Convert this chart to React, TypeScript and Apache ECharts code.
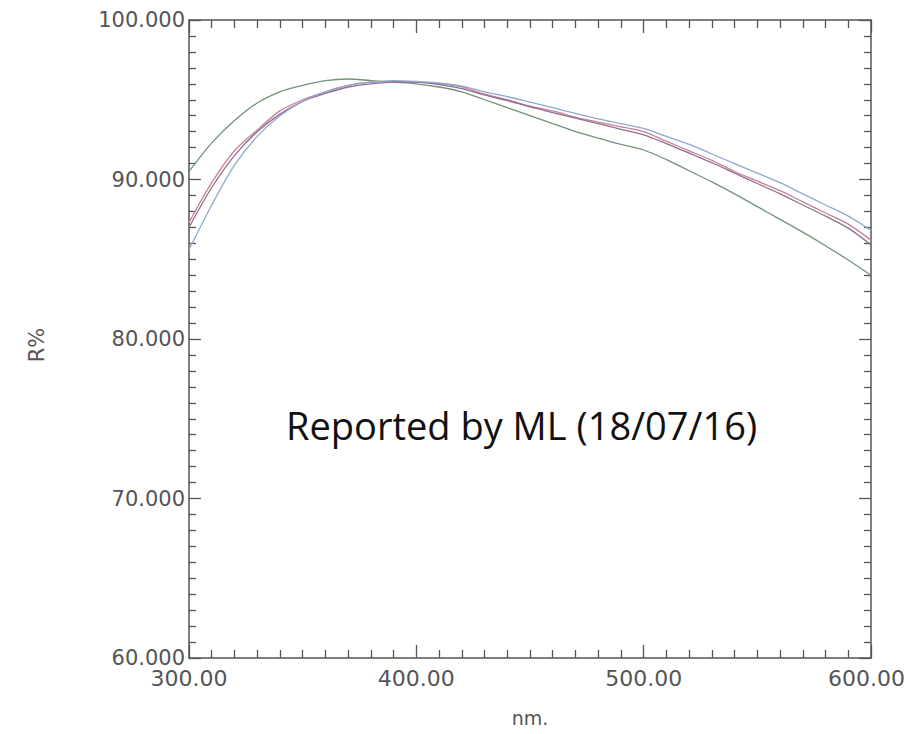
import React, { useEffect, useRef } from "react";
import * as echarts from "echarts";

const wavelengths = [300, 310, 320, 330, 340, 350, 360, 370, 380, 390, 400, 410, 420, 430, 440, 450, 460, 470, 480, 490, 500, 510, 520, 530, 540, 550, 560, 570, 580, 590, 600];

const greenSeries = [90.5, 92.3, 93.7, 94.8, 95.5, 95.9, 96.2, 96.3, 96.2, 96.1, 96.0, 95.8, 95.5, 95.0, 94.5, 94.0, 93.5, 93.0, 92.6, 92.2, 91.85, 91.25, 90.55, 89.85, 89.1, 88.3, 87.5, 86.7, 85.85, 84.95, 84.0];
const redSeries = [87.3, 89.8, 91.8, 93.1, 94.3, 95.0, 95.5, 95.9, 96.1, 96.15, 96.1, 96.0, 95.8, 95.35, 95.0, 94.6, 94.3, 93.9, 93.6, 93.3, 93.0, 92.4, 91.8, 91.2, 90.5, 89.9, 89.3, 88.6, 87.9, 87.2, 86.2];
const purpleSeries = [87.0, 89.5, 91.5, 93.0, 94.1, 94.9, 95.4, 95.8, 96.0, 96.1, 96.1, 95.95, 95.7, 95.3, 94.95, 94.55, 94.2, 93.85, 93.5, 93.15, 92.8, 92.25, 91.65, 91.05, 90.4, 89.75, 89.1, 88.4, 87.7, 86.95, 85.9];
const blueSeries = [85.6, 88.4, 90.9, 92.7, 94.0, 94.9, 95.5, 95.9, 96.1, 96.2, 96.15, 96.05, 95.85, 95.5, 95.2, 94.85, 94.5, 94.15, 93.8, 93.5, 93.2, 92.7, 92.2, 91.6, 91.0, 90.4, 89.8, 89.1, 88.4, 87.7, 86.8];

const seriesNames = ["Sample A", "Sample B", "Sample C", "Sample D"];
const seriesColors = ["#6f9478", "#c98095", "#8f6e93", "#8fa9cc"];
const seriesValues = [greenSeries, redSeries, purpleSeries, blueSeries];

const xTickLabels = ["300.00", "400.00", "500.00", "600.00"];
const yTickLabels = ["60.000", "70.000", "80.000", "90.000", "100.000"];

export default function App() {
  const ref = useRef<HTMLDivElement>(null);
  useEffect(() => {
    if (!ref.current) return;
    const chart = echarts.init(ref.current, null, { renderer: "svg" });
    const axisLine = { show: true, lineStyle: { color: "#555", width: 1.5 } };
    const labelFont = "DejaVu Sans";
    const xMap: Record<number, string> = { 300: xTickLabels[0], 400: xTickLabels[1], 500: xTickLabels[2], 600: xTickLabels[3] };
    const yMap: Record<number, string> = { 60: yTickLabels[0], 70: yTickLabels[1], 80: yTickLabels[2], 90: yTickLabels[3], 100: yTickLabels[4] };
    chart.setOption({
      animation: false,
      backgroundColor: "#ffffff",
      grid: { left: 189, right: 35, top: 20, bottom: 76, containLabel: false, outerBoundsMode: "none" },
      xAxis: [
        {
          type: "value", min: 300, max: 600, interval: 100, position: "bottom",
          axisLine, splitLine: { show: false },
          axisTick: { show: true, inside: true, length: 13, lineStyle: { color: "#555", width: 1.3 } },
          minorTick: { show: true, splitNumber: 10, length: 8, lineStyle: { color: "#555", width: 1.3 } },
          axisLabel: {
            show: true, margin: 9, fontFamily: labelFont, fontSize: 22, color: "#555",
            formatter: (v: number) => (v === 600 ? "{last|" + xMap[v] + "}" : xMap[v] ?? ""),
            rich: { last: { fontFamily: labelFont, fontSize: 22, color: "#555", padding: [0, 9, 0, 0] } },
          },
          name: "nm.", nameLocation: "middle", nameGap: 50,
          nameTextStyle: { fontFamily: labelFont, fontSize: 19, color: "#555" },
        },
        {
          type: "value", min: 300, max: 600, interval: 100, position: "top",
          axisLine, splitLine: { show: false },
          axisTick: { show: true, inside: true, length: 13, lineStyle: { color: "#555", width: 1.3 } },
          minorTick: { show: true, splitNumber: 10, length: 8, lineStyle: { color: "#555", width: 1.3 } },
          axisLabel: { show: false },
        },
      ],
      yAxis: [
        {
          type: "value", min: 60, max: 100, interval: 10, position: "left",
          axisLine, splitLine: { show: false },
          axisTick: { show: true, inside: true, length: 12, lineStyle: { color: "#555", width: 1.3 } },
          minorTick: { show: true, splitNumber: 10, length: 7, lineStyle: { color: "#555", width: 1.3 } },
          axisLabel: { show: true, margin: 4, fontFamily: labelFont, fontSize: 21, color: "#555", formatter: (v: number) => yMap[v] ?? "" },
          name: "R%", nameLocation: "middle", nameGap: 142, nameRotate: 90,
          nameTextStyle: { fontFamily: labelFont, fontSize: 21, color: "#555", padding: [0, 12, 0, 0] },
        },
        {
          type: "value", min: 60, max: 100, interval: 10, position: "right",
          axisLine, splitLine: { show: false },
          axisTick: { show: true, inside: true, length: 12, lineStyle: { color: "#555", width: 1.3 } },
          minorTick: { show: true, splitNumber: 10, length: 7, lineStyle: { color: "#555", width: 1.3 } },
          axisLabel: { show: false },
        },
      ],
      series: seriesValues.map((vals, i) => ({
        name: seriesNames[i],
        type: "line",
        xAxisIndex: 0,
        yAxisIndex: 0,
        showSymbol: false,
        smooth: 0.3,
        lineStyle: { color: seriesColors[i], width: 1.3 },
        data: wavelengths.map((w, j) => [w, vals[j]]),
      })),
      graphic: [
        {
          type: "text",
          left: 286,
          top: 406,
          style: { text: "Reported by ML (18/07/16)", fontFamily: "Open Sans", fontSize: 38, fill: "#111" },
        },
      ],
    });
    return () => chart.dispose();
  }, []);
  return <div ref={ref} style={{ width: 906, height: 734, position: "absolute", left: 0, top: 0 }} />;
}
